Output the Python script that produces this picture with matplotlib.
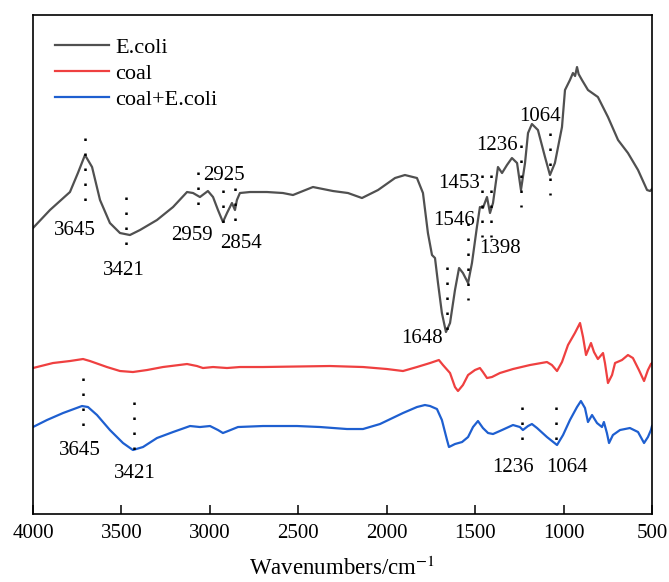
import matplotlib
matplotlib.use("Agg")
import matplotlib.pyplot as plt

plt.rcParams["font.family"] = ["Liberation Serif", "DejaVu Serif"]
plt.rcParams["mathtext.fontset"] = "stix"

# FTIR spectra, wavenumber (cm-1) and transmittance (arbitrary units)
ecoli_wn = [4000, 3904, 3791, 3746, 3706, 3666, 3621, 3565, 3508, 3452, 3395, 3299, 3208,
            3129, 3095, 3056, 3011, 2982, 2954, 2926, 2903, 2875, 2858, 2847, 2830, 2773,
            2677, 2587, 2530, 2417, 2304, 2219, 2140, 2049, 1953, 1897, 1829, 1795, 1767,
            1744, 1727, 1710, 1688, 1665, 1642, 1614, 1591, 1569, 1540, 1518, 1490, 1473,
            1456, 1433, 1416, 1399, 1371, 1348, 1320, 1292, 1263, 1241, 1218, 1201, 1179,
            1145, 1105, 1077, 1049, 1009, 992, 964, 947, 935, 924, 915, 896, 862, 806, 749,
            692, 636, 579, 528, 511, 500]
ecoli_t = [286, 304, 322, 341, 359, 347, 314, 291, 281, 279, 284, 294, 307,
           322, 321, 317, 323, 317, 304, 292, 301, 311, 304, 314, 321, 322,
           322, 321, 319, 327, 323, 321, 316, 324, 336, 339, 336, 321, 281,
           259, 256, 231, 201, 182, 191, 224, 246, 241, 231, 251, 287, 307,
           306, 317, 301, 311, 347, 341, 349, 356, 351, 324, 351, 381, 390,
           384, 357, 339, 351, 387, 424, 434, 441, 438, 447, 440, 434, 424, 417, 397,
           374, 361, 344, 324, 323, 325]

coal_wn = [4000, 3887, 3791, 3717, 3678, 3582, 3508, 3435, 3355, 3265, 3129, 3073, 3039,
           2982, 2903, 2830, 2700, 2321, 2134, 1999, 1908, 1829, 1755, 1705, 1682, 1642,
           1614, 1597, 1569, 1540, 1501, 1473, 1456, 1433, 1405, 1360, 1286, 1190, 1094,
           1066, 1037, 1009, 975, 936, 907, 890, 873, 845, 828, 806, 777, 766, 749, 726,
           709, 670, 636, 608, 574, 545, 523, 506, 500]
coal_t = [146, 151, 153, 155, 153, 147, 143, 142, 144, 147, 150, 148, 146,
          147, 146, 147, 147, 148, 147, 145, 143, 147, 151, 154, 149, 141,
          127, 123, 129, 139, 144, 146, 142, 136, 137, 141, 145, 149, 152,
          149, 143, 152, 169, 181, 191, 177, 159, 171, 162, 155, 161, 151, 131, 139,
          151, 154, 159, 156, 144, 133, 144, 150, 151]

mix_wn = [4000, 3921, 3830, 3723, 3689, 3638, 3565, 3491, 3435, 3378, 3299, 3208, 3112,
          3056, 2999, 2954, 2926, 2897, 2841, 2700, 2507, 2377, 2225, 2134, 2038, 1908,
          1829, 1784, 1755, 1716, 1688, 1659, 1648, 1614, 1574, 1540, 1512, 1484, 1456,
          1427, 1399, 1348, 1286, 1247, 1230, 1201, 1179, 1150, 1094, 1037, 1003, 964,
          924, 902, 879, 862, 839, 811, 783, 772, 755, 743, 721, 681, 625, 579, 545, 523,
          506, 500]
mix_t = [87, 94, 101, 108, 107, 99, 84, 71, 64, 67, 76, 82, 88,
         87, 88, 84, 81, 83, 87, 88, 88, 87, 85, 85, 90, 101,
         107, 109, 108, 105, 94, 74, 67, 70, 72, 77, 87, 93, 86,
         81, 80, 84, 89, 87, 84, 88, 90, 86, 77, 69, 79, 94,
         107, 113, 106, 92, 99, 91, 87, 92, 81, 71, 79, 84, 86, 82, 71, 77,
         84, 88]

labels = ["E.coli", "coal", "coal+E.coli"]

# marked bands: (line position, line top, line bottom, text, text x, text y, alignment)
ecoli_marks = [(3706, 376, 302, "3645", 3763, 284, "center"),
               (3474, 317, 257, "3421", 3485, 244, "center"),
               (3067, 342, 297, "2959", 3101, 279, "center"),
               (2926, 324, 281, "2925", 3039, 339, "left"),
               (2858, 326, 282, "2854", 2943, 271, "left"),
               (1661, 247, 174, "1648", 1682, 176, "right"),
               (1542, 291, 214, "1546", 1501, 294, "right"),
               (1463, 339, 277, "1453", 1473, 331, "right"),
               (1412, 339, 277, "1398", 1478, 266, "left"),
               (1241, 369, 307, "1236", 1258, 369, "right"),
               (1077, 381, 319, "1064", 1133, 398, "center")]
mix_marks = [(3719, 136, 77, "3645", 3734, 64, "center"),
             (3427, 112, 54, "3421", 3423, 41, "center"),
             (1233, 107, 62, "1236", 1286, 47, "center"),
             (1043, 107, 64, "1064", 981, 47, "center")]

fig = plt.figure(figsize=(6.69, 5.82), dpi=100)
ax = fig.add_axes([0.0493, 0.1168, 0.9253, 0.8574])

ax.plot(ecoli_wn, ecoli_t, color="#505050", lw=1.6, label=labels[0])
ax.plot(coal_wn, coal_t, color="#ef4040", lw=1.6, label=labels[1])
ax.plot(mix_wn, mix_t, color="#1e5fd0", lw=1.6, label=labels[2])

# dotted guide lines and band labels
for m in ecoli_marks + mix_marks:
    ax.plot([m[0], m[0]], [m[1], m[2]], color="black", lw=1.8,
            linestyle=(0, (1, 5)), dash_capstyle="butt")
    ax.text(m[4], m[5], m[3], ha=m[6], va="center", fontsize=15)

ax.set_xlim(4000, 500)
ax.set_ylim(0, 499)
ax.set_xticks([4000, 3500, 3000, 2500, 2000, 1500, 1000, 500])
ax.set_yticks([])
ax.tick_params(axis="x", direction="in", length=6.5, width=1.1, labelsize=15, pad=7)
for s in ax.spines.values():
    s.set_linewidth(1.2)

ax.set_xlabel(r"Wavenumbers/cm$^{-1}$", fontsize=16.5, labelpad=10)

ax.legend(loc="upper left", bbox_to_anchor=(0.0, 1.0), frameon=False, fontsize=16,
          handlelength=2.4, handletextpad=0.3, labelspacing=0.25, borderaxespad=0.6)

plt.savefig("out.png", dpi=100)
